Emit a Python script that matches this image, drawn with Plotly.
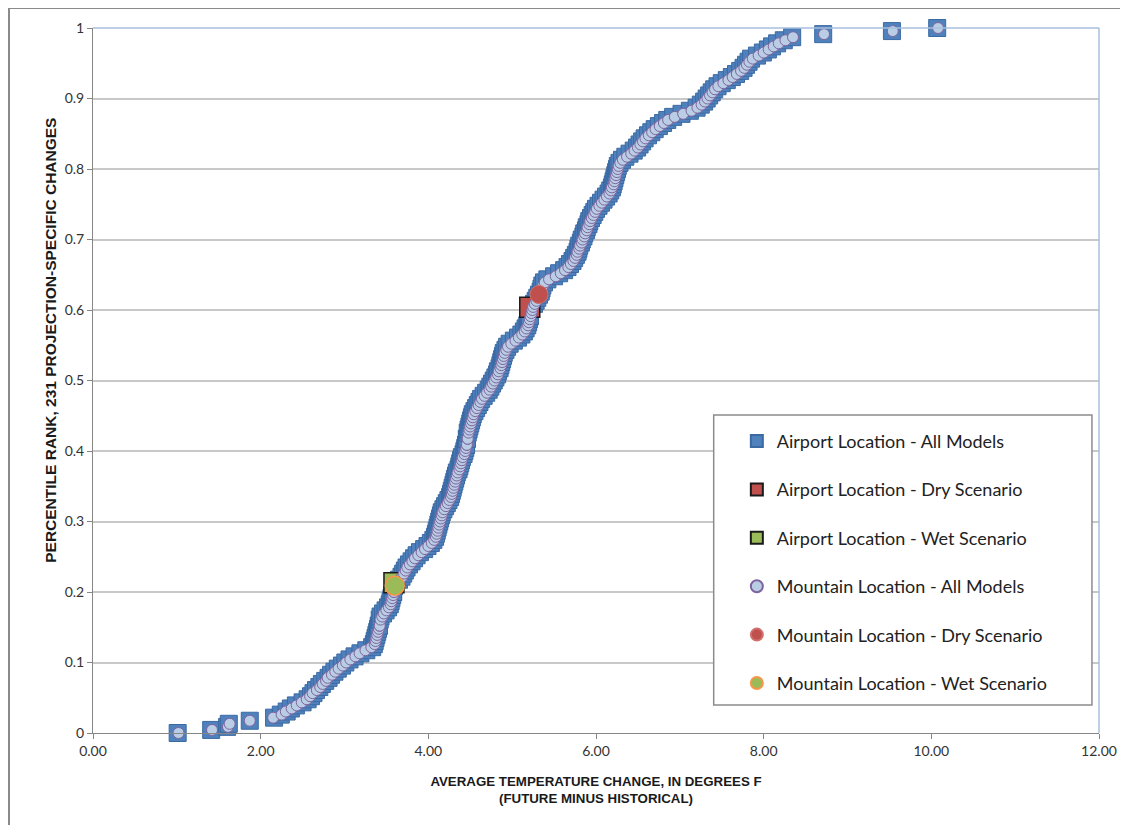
import numpy as np
import plotly.graph_objects as go

# average temperature change (deg F), 231 projections
airport_all = [
    1.01, 1.41, 1.60, 1.62, 1.87, 2.16, 2.24, 2.31, 2.36, 2.42,
    2.50, 2.56, 2.60, 2.63, 2.66, 2.70, 2.73, 2.77, 2.81, 2.84,
    2.88, 2.92, 2.97, 3.01, 3.06, 3.12, 3.19, 3.26, 3.33, 3.35,
    3.36, 3.37, 3.38, 3.39, 3.40, 3.41, 3.41, 3.42, 3.43, 3.46,
    3.49, 3.52, 3.54, 3.55, 3.56, 3.57, 3.58, 3.58, 3.59, 3.59,
    3.65, 3.68, 3.70, 3.72, 3.74, 3.77, 3.80, 3.83, 3.86, 3.90,
    3.95, 3.99, 4.03, 4.06, 4.08, 4.09, 4.10, 4.11, 4.12, 4.13,
    4.14, 4.15, 4.16, 4.18, 4.20, 4.22, 4.24, 4.26, 4.27, 4.28,
    4.29, 4.30, 4.31, 4.32, 4.33, 4.34, 4.36, 4.37, 4.38, 4.39,
    4.40, 4.42, 4.43, 4.44, 4.45, 4.45, 4.46, 4.46, 4.47, 4.48,
    4.49, 4.50, 4.51, 4.52, 4.53, 4.55, 4.57, 4.59, 4.61, 4.63,
    4.66, 4.69, 4.72, 4.74, 4.76, 4.78, 4.80, 4.82, 4.83, 4.85,
    4.86, 4.87, 4.88, 4.89, 4.90, 4.92, 4.94, 4.97, 5.02, 5.07,
    5.11, 5.14, 5.16, 5.18, 5.19, 5.20, 5.21, 5.21, 5.21, 5.22,
    5.26, 5.28, 5.30, 5.32, 5.34, 5.35, 5.36, 5.38, 5.42, 5.50,
    5.56, 5.62, 5.66, 5.69, 5.72, 5.74, 5.76, 5.78, 5.79, 5.80,
    5.82, 5.83, 5.85, 5.86, 5.88, 5.89, 5.91, 5.92, 5.94, 5.96,
    5.98, 6.00, 6.03, 6.06, 6.09, 6.12, 6.15, 6.17, 6.19, 6.20,
    6.21, 6.22, 6.23, 6.24, 6.25, 6.26, 6.28, 6.31, 6.35, 6.40,
    6.45, 6.49, 6.52, 6.55, 6.58, 6.62, 6.66, 6.70, 6.75, 6.80,
    6.85, 6.92, 7.02, 7.12, 7.20, 7.25, 7.29, 7.32, 7.35, 7.38,
    7.41, 7.45, 7.50, 7.56, 7.62, 7.67, 7.72, 7.76, 7.79, 7.82,
    7.85, 7.92, 7.99, 8.05, 8.10, 8.16, 8.24, 8.34, 8.71, 9.53,
    10.07,
]
mountain_all = [
    1.02, 1.42, 1.61, 1.63, 1.87, 2.15, 2.25, 2.30, 2.37, 2.43,
    2.49, 2.55, 2.59, 2.62, 2.67, 2.71, 2.74, 2.78, 2.80, 2.85,
    2.89, 2.93, 2.98, 3.02, 3.07, 3.13, 3.18, 3.25, 3.32, 3.36,
    3.37, 3.38, 3.39, 3.40, 3.41, 3.42, 3.42, 3.43, 3.45, 3.47,
    3.50, 3.53, 3.55, 3.56, 3.57, 3.58, 3.59, 3.59, 3.60, 3.62,
    3.66, 3.69, 3.71, 3.73, 3.75, 3.78, 3.81, 3.84, 3.88, 3.92,
    3.96, 4.00, 4.04, 4.07, 4.09, 4.10, 4.11, 4.12, 4.13, 4.14,
    4.15, 4.16, 4.17, 4.19, 4.21, 4.23, 4.25, 4.27, 4.28, 4.29,
    4.30, 4.31, 4.32, 4.33, 4.34, 4.35, 4.37, 4.38, 4.39, 4.40,
    4.41, 4.43, 4.44, 4.45, 4.46, 4.46, 4.47, 4.47, 4.48, 4.49,
    4.50, 4.51, 4.52, 4.53, 4.54, 4.56, 4.58, 4.60, 4.62, 4.64,
    4.67, 4.70, 4.73, 4.75, 4.77, 4.79, 4.81, 4.83, 4.84, 4.86,
    4.87, 4.88, 4.89, 4.90, 4.91, 4.93, 4.95, 4.99, 5.04, 5.08,
    5.12, 5.15, 5.17, 5.19, 5.20, 5.21, 5.22, 5.23, 5.24, 5.25,
    5.27, 5.29, 5.31, 5.32, 5.35, 5.36, 5.37, 5.39, 5.44, 5.52,
    5.58, 5.63, 5.67, 5.70, 5.73, 5.75, 5.77, 5.78, 5.80, 5.81,
    5.83, 5.84, 5.86, 5.87, 5.89, 5.90, 5.92, 5.93, 5.95, 5.97,
    5.99, 6.01, 6.04, 6.07, 6.10, 6.13, 6.16, 6.18, 6.19, 6.21,
    6.22, 6.23, 6.24, 6.25, 6.26, 6.27, 6.29, 6.32, 6.37, 6.42,
    6.46, 6.50, 6.53, 6.56, 6.59, 6.63, 6.67, 6.71, 6.76, 6.81,
    6.86, 6.94, 7.04, 7.14, 7.21, 7.26, 7.30, 7.33, 7.36, 7.39,
    7.42, 7.46, 7.52, 7.58, 7.63, 7.68, 7.73, 7.77, 7.80, 7.83,
    7.87, 7.94, 8.00, 8.06, 8.12, 8.18, 8.26, 8.35, 8.72, 9.54,
    10.08,
]

# highlighted scenarios (x, percentile rank)
airport_dry_x, airport_dry_y = [5.21], [0.604]
airport_wet_x, airport_wet_y = [3.59], [0.213]
mountain_dry_x, mountain_dry_y = [5.32], [0.622]
mountain_wet_x, mountain_wet_y = [3.60], [0.209]


def percent_rank(vals):
    # Excel PERCENTRANK: share of values below, over n-1
    v = np.array(vals)
    return [(v < x).sum() / (len(v) - 1) for x in v]


airport_y = percent_rank(airport_all)
mountain_y = percent_rank(mountain_all)

fig = go.Figure()

fig.add_trace(go.Scatter(
    x=airport_all, y=airport_y, mode="markers", name="Airport Location - All Models",
    legendgroup="a1", cliponaxis=False,
    marker=dict(symbol="square", size=17, color="#4F81BD", line=dict(color="#3B6AA3", width=1))
))
fig.add_trace(go.Scatter(
    x=airport_dry_x, y=airport_dry_y, mode="markers", name="Airport Location - Dry Scenario",
    legendgroup="a2", cliponaxis=False,
    marker=dict(symbol="square", size=20, color="#C0504D", line=dict(color="#1a1a1a", width=1.5))
))
fig.add_trace(go.Scatter(
    x=airport_wet_x, y=airport_wet_y, mode="markers", name="Airport Location - Wet Scenario",
    legendgroup="a3", cliponaxis=False,
    marker=dict(symbol="square", size=20, color="#9BBB59", line=dict(color="#1a1a1a", width=1.5))
))
fig.add_trace(go.Scatter(
    x=mountain_all, y=mountain_y, mode="markers", name="Mountain Location - All Models",
    legendgroup="m1", cliponaxis=False,
    marker=dict(symbol="circle", size=11, color="#B9CDE5", line=dict(color="#7E649E", width=1))
))
fig.add_trace(go.Scatter(
    x=mountain_dry_x, y=mountain_dry_y, mode="markers", name="Mountain Location - Dry Scenario",
    legendgroup="m2", cliponaxis=False,
    marker=dict(symbol="circle", size=18, color="#C0504D", line=dict(color="#D0706C", width=1))
))
fig.add_trace(go.Scatter(
    x=mountain_wet_x, y=mountain_wet_y, mode="markers", name="Mountain Location - Wet Scenario",
    legendgroup="m3", cliponaxis=False,
    marker=dict(symbol="circle", size=19, color="#9BBB59", line=dict(color="#F79646", width=1.5))
))

# legend box and outer chart frame
fig.add_shape(type="rect", xref="paper", yref="paper", x0=0.617, x1=0.993, y0=0.0397, y1=0.451,
              line=dict(color="#8c8c8c", width=1.5), fillcolor="white", layer="above")
fig.add_shape(type="line", xref="paper", yref="paper", x0=0, x1=1, y0=1, y1=1,
              line=dict(color="#A7BFDE", width=1.5))
fig.add_shape(type="line", xref="paper", yref="paper", x0=1, x1=1, y0=0, y1=1,
              line=dict(color="#A7BFDE", width=1.5))
fig.add_shape(type="line", xref="paper", yref="paper", x0=-0.0835, x1=1.05, y0=1.0284, y1=1.0284,
              line=dict(color="#8a8a8a", width=2))
fig.add_shape(type="line", xref="paper", yref="paper", x0=-0.0835, x1=-0.0835, y0=-0.2, y1=1.0284,
              line=dict(color="#8a8a8a", width=2))

tick_font = dict(family="Lato, sans-serif", size=14, color="#333333")
narrow = "Liberation Sans Narrow, Arial Narrow, sans-serif"

# y title sits a little above the axis middle in the original
fig.add_annotation(
    text="<b>PERCENTILE RANK, 231 PROJECTION-SPECIFIC CHANGES</b>",
    xref="paper", yref="paper", x=-0.0527, y=0.557, textangle=-90,
    showarrow=False, font=dict(family=narrow, size=15.5, color="#1a1a1a"),
)

fig.update_layout(
    width=1128, height=825,
    margin=dict(l=85, r=37, t=20, b=100),
    plot_bgcolor="white", paper_bgcolor="white",
    showlegend=True,
    legend=dict(
        x=0.64, y=0.44, xanchor="left", yanchor="top",
        font=dict(family="Lato, sans-serif", size=18, color="#222222"),
        bgcolor="rgba(0,0,0,0)", tracegroupgap=22, itemsizing="constant",
    ),
    xaxis=dict(
        range=[0, 12], dtick=2, tickformat=".2f", showgrid=False, zeroline=False,
        showline=True, linecolor="#868686", ticks="outside", ticklen=5, tickcolor="#868686",
        tickfont=tick_font,
        title=dict(text="<b>AVERAGE TEMPERATURE CHANGE, IN DEGREES F<br>(FUTURE MINUS HISTORICAL)</b>",
                   font=dict(family=narrow, size=13.3, color="#1a1a1a"), standoff=18),
    ),
    yaxis=dict(
        range=[0, 1], dtick=0.1, showgrid=True, gridcolor="#C8C8C8", gridwidth=1.5, zeroline=False,
        showline=True, linecolor="#868686", ticks="outside", ticklen=5, tickcolor="#868686",
        tickfont=tick_font,
    ),
)

fig.write_html("out.html")
